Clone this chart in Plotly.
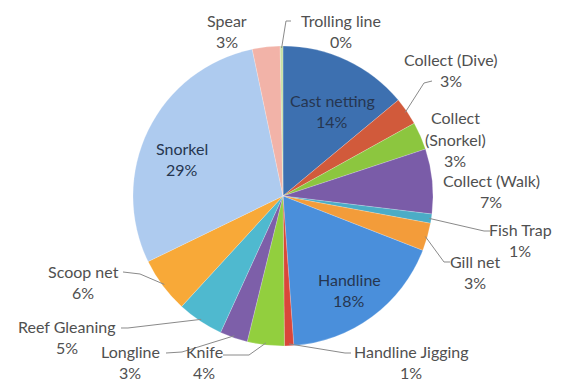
import math
import plotly.graph_objects as go

# Fishing methods and their share of catch (percent)
methods = [
    "Cast netting", "Collect (Dive)", "Collect (Snorkel)", "Collect (Walk)",
    "Fish Trap", "Gill net", "Handline", "Handline Jigging", "Knife",
    "Longline", "Reef Gleaning", "Scoop net", "Snorkel", "Spear", "Trolling line",
]
shares = [14, 3, 3, 7, 1, 3, 18, 1, 4, 3, 5, 6, 29, 3, 0.3]
colors = [
    "#3D70B0", "#D15A3B", "#8CC63F", "#7A5CA8", "#4BACC6", "#F39C3A",
    "#4A8FDB", "#D9473A", "#92CF3E", "#7D5FA9", "#4FB9CF", "#F8A938",
    "#AECBEF", "#F2B3A8", "#C5E0A5",
]

W, H = 564, 381
CX, CY, R = 283, 196, 150

# Label layout: text centre (px), optional line breaks, optional leader path
# (elbow and end points in px; the start is on the slice edge).
label_layout = {
    "Cast netting": dict(pos=(332, 111), inside=True),
    "Collect (Dive)": dict(pos=(451, 70), lead=[(424, 83), (432, 81)]),
    "Collect (Snorkel)": dict(pos=(455, 139), split=["Collect", "(Snorkel)"]),
    "Collect (Walk)": dict(pos=(491, 191)),
    "Fish Trap": dict(pos=(520, 240), lead=[(484, 231), (490, 231)]),
    "Gill net": dict(pos=(475, 272), lead=[(444, 262), (450, 262)]),
    "Handline": dict(pos=(349, 290), inside=True),
    "Handline Jigging": dict(pos=(411, 362), lead=[(345, 353), (351, 353)]),
    "Knife": dict(pos=(204, 362), lead=[(249, 355), (223, 355)]),
    "Longline": dict(pos=(130, 362), lead=[(182, 352), (166, 353)]),
    "Reef Gleaning": dict(pos=(67, 337), lead=[(128, 328), (121, 328)]),
    "Scoop net": dict(pos=(83, 282), lead=[(140, 274), (123, 272)]),
    "Snorkel": dict(pos=(182, 159), inside=True),
    "Spear": dict(pos=(227, 31)),
    "Trolling line": dict(pos=(341, 31), lead=[(286, 21), (291, 21)]),
}

fig = go.Figure(go.Pie(
    labels=methods,
    values=shares,
    sort=False,
    direction="clockwise",
    rotation=0,
    marker=dict(colors=colors, line=dict(color="rgba(255,255,255,0.4)", width=0.5)),
    textinfo="none",
    hoverinfo="label+percent",
    domain=dict(x=[(CX - R) / W, (CX + R) / W], y=[(H - CY - R) / H, (H - CY + R) / H]),
    showlegend=False,
))


def px_to_paper(x, y):
    return x / W, 1 - y / H


total = sum(shares)
annotations, shapes = [], []
cum = 0.0
LINE_GAP = 21
for name, val in zip(methods, shares):
    mid = (cum + val / 2) / total * 2 * math.pi
    cum += val
    spec = label_layout[name]
    pct = f"{round(val / total * 100):.0f}%"
    lines = spec.get("split", [name]) + [pct]
    color = "#263650" if spec.get("inside") else "#505050"
    cx, cy = spec["pos"]
    n = len(lines)
    for i, txt in enumerate(lines):
        ly = cy + (i - (n - 1) / 2) * LINE_GAP
        ax, ay = px_to_paper(cx, ly)
        annotations.append(dict(
            x=ax, y=ay, xref="paper", yref="paper", text=txt, showarrow=False,
            xanchor="center", yanchor="middle",
            font=dict(family="Lato", size=16, color=color),
        ))
    if "lead" in spec:
        sx = CX + (R - 2) * math.sin(mid)
        sy = CY - (R - 2) * math.cos(mid)
        pts = [(sx, sy)] + spec["lead"]
        path = ""
        for j, (x, y) in enumerate(pts):
            px, py = px_to_paper(x, y)
            path += ("M" if j == 0 else " L") + f" {px:.5f},{py:.5f}"
        shapes.append(dict(type="path", path=path, xref="paper", yref="paper",
                           line=dict(color="#8A8A8A", width=1)))

fig.update_layout(
    width=W, height=H,
    margin=dict(l=0, r=0, t=0, b=0),
    paper_bgcolor="white", plot_bgcolor="white",
    annotations=annotations, shapes=shapes,
)

fig.write_html("out.html")
